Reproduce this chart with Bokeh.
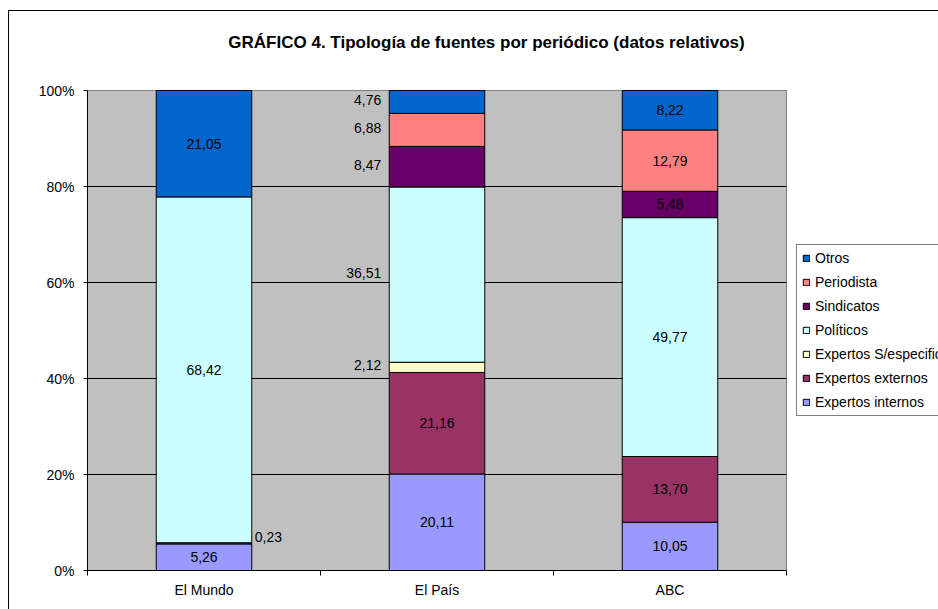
from bokeh.plotting import figure
from bokeh.models import Range1d, FixedTicker, Legend, LegendItem, Label
from bokeh.core.properties import value
from bokeh.embed import file_html
from bokeh.resources import INLINE

# ---- data ----
periodicos = ["El Mundo", "El País", "ABC"]
series_names = ["Expertos internos", "Expertos externos", "Expertos S/especificar",
                "Políticos", "Sindicatos", "Periodista", "Otros"]
expertos_internos = [5.26, 20.11, 10.05]
expertos_externos = [0.23, 21.16, 13.70]
expertos_sesp = [0.00, 2.12, 0.00]
politicos = [68.42, 36.51, 49.77]
sindicatos = [0.00, 8.47, 5.48]
periodista = [0.00, 6.88, 12.79]
otros = [21.05, 4.76, 8.22]
y_ticks = [0, 20, 40, 60, 80, 100]
y_tick_labels = ["0%", "20%", "40%", "60%", "80%", "100%"]
title_text = "GRÁFICO 4. Tipología de fuentes por periódico (datos relativos)"

series_values = [expertos_internos, expertos_externos, expertos_sesp,
                 politicos, sindicatos, periodista, otros]
colors = ["#9999FF", "#993366", "#FFFFCC", "#CCFFFF", "#660066", "#FF8080", "#0066CC"]

# label placement (style): "in" centered, "left" outside left, "right" outside right
placement = [
    ["in", "right", "in", "in", "in", "in", "in"],        # El Mundo
    ["in", "in", "left", "left", "left", "left", "left"],  # El País
    ["in", "in", "in", "in", "in", "in", "in"],           # ABC
]

# ---- layout (pixels) ----
W, H = 938, 609
AREA_L, AREA_R, AREA_T, AREA_B = 87, 786, 90, 570   # gray plot area
FONT = "Liberation Sans"
BAR_W = 0.41
ncat = len(periodicos)
px_per_x = (AREA_R - AREA_L) / ncat
px_per_y = (AREA_B - AREA_T) / 100.0

p = figure(width=W, height=H, output_backend="svg", toolbar_location=None,
           x_range=Range1d(0, (W - AREA_L) / px_per_x),
           y_range=Range1d(0, AREA_B / px_per_y),
           min_border_left=AREA_L, min_border_right=0, min_border_top=0,
           min_border_bottom=H - AREA_B)
# outer chart border (left and top edges)
p.styles = {
    "background": "linear-gradient(#000,#000) 8px 10px / 1px 100% no-repeat, "
                  "linear-gradient(#000,#000) 8px 10px / 100% 1px no-repeat, #ffffff"
}
p.background_fill_color = None
p.border_fill_color = None
p.outline_line_color = None
p.xgrid.visible = False
p.ygrid.visible = False

# gray plot area and gridlines
p.quad(left=[0], right=[ncat], bottom=[y_ticks[0]], top=[y_ticks[-1]],
       fill_color="#C0C0C0", line_color="#808080", line_width=1)
gy = y_ticks[1:-1]
p.segment(x0=[0] * len(gy), x1=[ncat] * len(gy), y0=gy, y1=gy,
          line_color="black", line_width=1)

xs = [i + 0.5 for i in range(ncat)]
totals = [sum(s[i] for s in series_values) for i in range(ncat)]

renderers = []
cum = [0.0] * ncat
lab_in = dict(x=[], y=[], t=[])
lab_left = dict(x=[], y=[], t=[])
lab_right = dict(x=[], y=[], t=[])
for k, vals in enumerate(series_values):
    bx, bb, bt = [], [], []
    for i, v in enumerate(vals):
        pct = v / totals[i] * 100.0
        bottom = cum[i]
        top = cum[i] + pct
        cum[i] = top
        if v <= 0:
            continue
        bx.append(xs[i]); bb.append(bottom); bt.append(top)
        txt = f"{v:.2f}".replace(".", ",")
        mid = (bottom + top) / 2
        pl = placement[i][k]
        if pl == "in":
            lab_in["x"].append(xs[i]); lab_in["y"].append(mid); lab_in["t"].append(txt)
        elif pl == "left":
            lab_left["x"].append(xs[i] - BAR_W / 2); lab_left["y"].append(mid); lab_left["t"].append(txt)
        else:
            lab_right["x"].append(xs[i] + BAR_W / 2); lab_right["y"].append(mid); lab_right["t"].append(txt)
    r = p.vbar(x=bx, bottom=bb, top=bt, width=BAR_W, fill_color=colors[k],
               line_color="black", line_width=1)
    renderers.append(r)

common = dict(text_font=value(FONT), text_font_size="14px", text_color="black",
              text_baseline="middle")
p.text(x=lab_in["x"], y=lab_in["y"], text=lab_in["t"], text_align="center", **common)
p.text(x=lab_left["x"], y=lab_left["y"], text=lab_left["t"], text_align="right",
       x_offset=-8, y_offset=-2, **common)
p.text(x=lab_right["x"], y=lab_right["y"], text=lab_right["t"], text_align="left",
       x_offset=3, y_offset=-6, **common)

# axes
p.yaxis.bounds = (y_ticks[0], y_ticks[-1])
p.yaxis.ticker = FixedTicker(ticks=y_ticks)
p.yaxis.major_label_overrides = {t: l for t, l in zip(y_ticks, y_tick_labels)}
p.yaxis.major_tick_out = 4
p.yaxis.major_tick_in = 0
p.yaxis.minor_tick_out = 0
p.yaxis.minor_tick_in = 0
p.yaxis.major_label_standoff = 9
p.yaxis.axis_line_color = "black"
p.yaxis.major_tick_line_color = "black"

p.xaxis.bounds = (0, ncat)
p.xaxis.ticker = FixedTicker(ticks=xs, minor_ticks=list(range(ncat + 1)))
p.xaxis.major_label_overrides = {x: n for x, n in zip(xs, periodicos)}
p.xaxis.major_tick_out = 0
p.xaxis.major_tick_in = 0
p.xaxis.minor_tick_out = 5
p.xaxis.minor_tick_in = 0
p.xaxis.minor_tick_line_color = "black"
p.xaxis.major_label_standoff = 6
p.xaxis.axis_line_color = "black"

for ax in (p.xaxis, p.yaxis):
    ax.major_label_text_font = FONT
    ax.major_label_text_font_size = "14px"
    ax.major_label_text_color = "black"

# title
title = Label(x=(486 - AREA_L) / px_per_x, y=(AREA_B - 42) / px_per_y,
              text=title_text,
              text_font=FONT, text_font_size="17px", text_font_style="bold",
              text_align="center", text_baseline="middle", text_color="black")
p.add_layout(title)

# legend (top to bottom reversed)
items = [LegendItem(label=series_names[k], renderers=[renderers[k]])
         for k in reversed(range(len(series_names)))]
legend = Legend(items=items, location=(796 - AREA_L, AREA_B - 416), orientation="vertical",
                label_text_font=FONT, label_text_font_size="14px",
                label_text_color="black", glyph_width=8, glyph_height=8,
                label_height=16, spacing=8, padding=5, margin=0,
                label_standoff=5, border_line_color="black", border_line_width=1,
                background_fill_color="white", background_fill_alpha=1.0)
p.add_layout(legend, "center")

open("out.html", "w").write(file_html(p, INLINE))
